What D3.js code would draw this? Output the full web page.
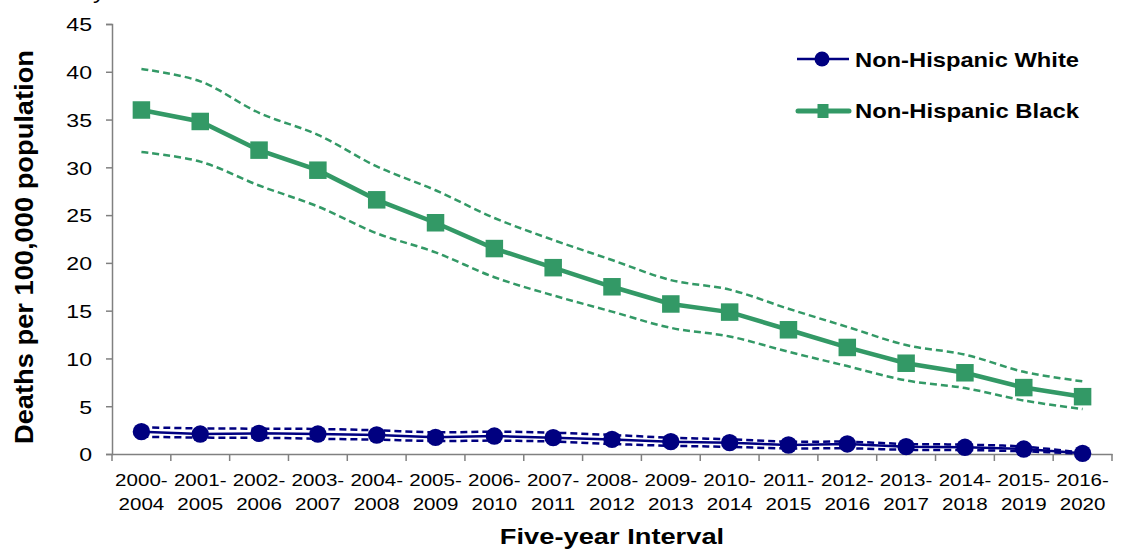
<!DOCTYPE html>
<html><head><meta charset="utf-8">
<script src="https://cdn.jsdelivr.net/npm/d3@7"></script>
<style>body{margin:0;background:#fff}svg{display:block}text{font-family:Arial,"Liberation Sans",sans-serif}</style>
</head><body>
<script>
const categories=["2000-2004","2001-2005","2002-2006","2003-2007","2004-2008","2005-2009","2006-2010","2007-2011","2008-2012","2009-2013","2010-2014","2011-2015","2012-2016","2013-2017","2014-2018","2015-2019","2016-2020"];
const whiteRate=[2.34,2.09,2.16,2.09,1.99,1.74,1.88,1.71,1.53,1.29,1.19,0.94,1.05,0.77,0.70,0.52,0.07];
const whiteUpper=[2.80,2.68,2.65,2.62,2.48,2.27,2.34,2.23,1.99,1.71,1.54,1.29,1.29,1.05,0.98,0.77,0.12];
const whiteLower=[1.81,1.72,1.70,1.60,1.50,1.36,1.40,1.30,1.05,0.86,0.75,0.58,0.60,0.44,0.42,0.28,0.02];
const blackRate=[36.0,34.8,31.8,29.7,26.6,24.2,21.5,19.5,17.5,15.7,14.85,13.0,11.15,9.5,8.5,6.95,6.0];
const blackUpper=[40.3,39.0,35.7,33.4,30.1,27.6,24.7,22.4,20.3,18.2,17.2,15.2,13.3,11.4,10.4,8.6,7.6];
const blackLower=[31.6,30.6,28.1,25.9,23.1,21.1,18.5,16.6,14.9,13.2,12.3,10.7,9.2,7.7,6.9,5.6,4.7];
const yTicks=[0,5,10,15,20,25,30,35,40,45];
const seriesNames=["Non-Hispanic White","Non-Hispanic Black"];

(function(){
const W=1121,H=551;
const pL=112,pR=1112,pT=24,pB=454;
const navy="#000080",green="#339966";
const svg=d3.select("body").append("svg").attr("width",W).attr("height",H);

// cut-off title descender
svg.append("text").attr("transform","translate(93,-1) scale(1.2,1)").attr("font-size",20).text("y");

const x=d3.scaleBand().domain(categories).range([pL,pR]);
const y=d3.scaleLinear().domain([0,45]).range([pB,pT]);
const cx=c=>x(c)+x.bandwidth()/2;

// y axis
const ya=svg.append("g").attr("transform",`translate(${pL},0)`)
 .call(d3.axisLeft(y).tickValues(yTicks).tickSize(6).tickPadding(14).tickFormat(d3.format("d")));
ya.select(".domain").attr("stroke","#808080").attr("stroke-width",1.5);
ya.selectAll(".tick line").attr("stroke","#808080").attr("stroke-width",1.5);
ya.selectAll(".tick text").attr("font-size",18.5).attr("fill","#000")
  .attr("font-family","Arial, 'Liberation Sans', sans-serif")
  .attr("x",0).attr("dy",null).attr("y",6.8).attr("transform","translate(-20,0) scale(1.25,1)");

// x axis
const xa=svg.append("g").attr("transform",`translate(0,${pB})`)
 .call(d3.axisBottom(x).tickSize(0).tickFormat(""));
xa.select(".domain").attr("stroke","#808080").attr("stroke-width",1.5);
const bounds=d3.range(categories.length+1).map(i=>pL+i*x.step());
xa.selectAll(".bt").data(bounds).enter().append("line").attr("class","bt")
 .attr("x1",d=>d).attr("x2",d=>d).attr("y1",0).attr("y2",7).attr("stroke","#808080").attr("stroke-width",1.5);
const lbl=svg.append("g");
categories.forEach(c=>{
  const parts=c.split("-");
  const t=lbl.append("text").attr("text-anchor","middle").attr("font-size",17).attr("fill","#000")
    .attr("transform",`translate(${cx(c)},0) scale(1.21,1)`);
  t.append("tspan").attr("x",0).attr("y",486).text(parts[0]+"-");
  t.append("tspan").attr("x",0).attr("y",510).text(parts[1]);
});

// axis titles
svg.append("text").attr("transform",`translate(33.3,247) rotate(-90)`).attr("text-anchor","middle")
 .attr("font-size",25).attr("font-weight","bold").attr("textLength",394).attr("lengthAdjust","spacingAndGlyphs")
 .text("Deaths per 100,000 population");
svg.append("text").attr("transform",`translate(${(pL+pR)/2+0},544) scale(1.24,1)`).attr("text-anchor","middle")
 .attr("font-size",22).attr("font-weight","bold").text("Five-year Interval");

const straight=d3.line().x((d,i)=>cx(categories[i])).y(d=>y(d));
const smooth=d3.line().x((d,i)=>cx(categories[i])).y(d=>y(d)).curve(d3.curveCatmullRom.alpha(0.5));

// white series
[whiteUpper,whiteLower].forEach(a=>svg.append("path").attr("d",smooth(a)).attr("fill","none")
  .attr("stroke",navy).attr("stroke-width",2.5).attr("stroke-dasharray","7,4"));
svg.append("path").attr("d",straight(whiteRate)).attr("fill","none").attr("stroke",navy).attr("stroke-width",2.5);
svg.selectAll(".wm").data(whiteRate).enter().append("circle").attr("class","wm")
 .attr("cx",(d,i)=>cx(categories[i])).attr("cy",d=>y(d)).attr("r",8.7).attr("fill",navy);

// black series
[blackUpper,blackLower].forEach(a=>svg.append("path").attr("d",smooth(a)).attr("fill","none")
  .attr("stroke",green).attr("stroke-width",2.5).attr("stroke-dasharray","7,4"));
svg.append("path").attr("d",straight(blackRate)).attr("fill","none").attr("stroke",green).attr("stroke-width",4.5);
const s=17.5;
svg.selectAll(".bm").data(blackRate).enter().append("rect").attr("class","bm")
 .attr("x",(d,i)=>cx(categories[i])-s/2).attr("y",d=>y(d)-s/2).attr("width",s).attr("height",s).attr("fill",green);

// legend
const lg=svg.append("g");
lg.append("line").attr("x1",797).attr("x2",849).attr("y1",59).attr("y2",59).attr("stroke",navy).attr("stroke-width",2.5);
lg.append("circle").attr("cx",822).attr("cy",59).attr("r",7.5).attr("fill",navy);
lg.append("text").attr("x",855).attr("y",66.7).attr("font-size",21).attr("font-weight","bold")
  .attr("textLength",224).attr("lengthAdjust","spacingAndGlyphs").text(seriesNames[0]);
lg.append("line").attr("x1",798).attr("x2",849).attr("y1",111).attr("y2",111).attr("stroke",green).attr("stroke-width",5).attr("stroke-linecap","round");
lg.append("rect").attr("x",817.5).attr("y",104).attr("width",11).attr("height",14).attr("fill",green);
lg.append("text").attr("x",855).attr("y",117.5).attr("font-size",21).attr("font-weight","bold")
  .attr("textLength",224).attr("lengthAdjust","spacingAndGlyphs").text(seriesNames[1]);
})();
</script>
</body></html>
